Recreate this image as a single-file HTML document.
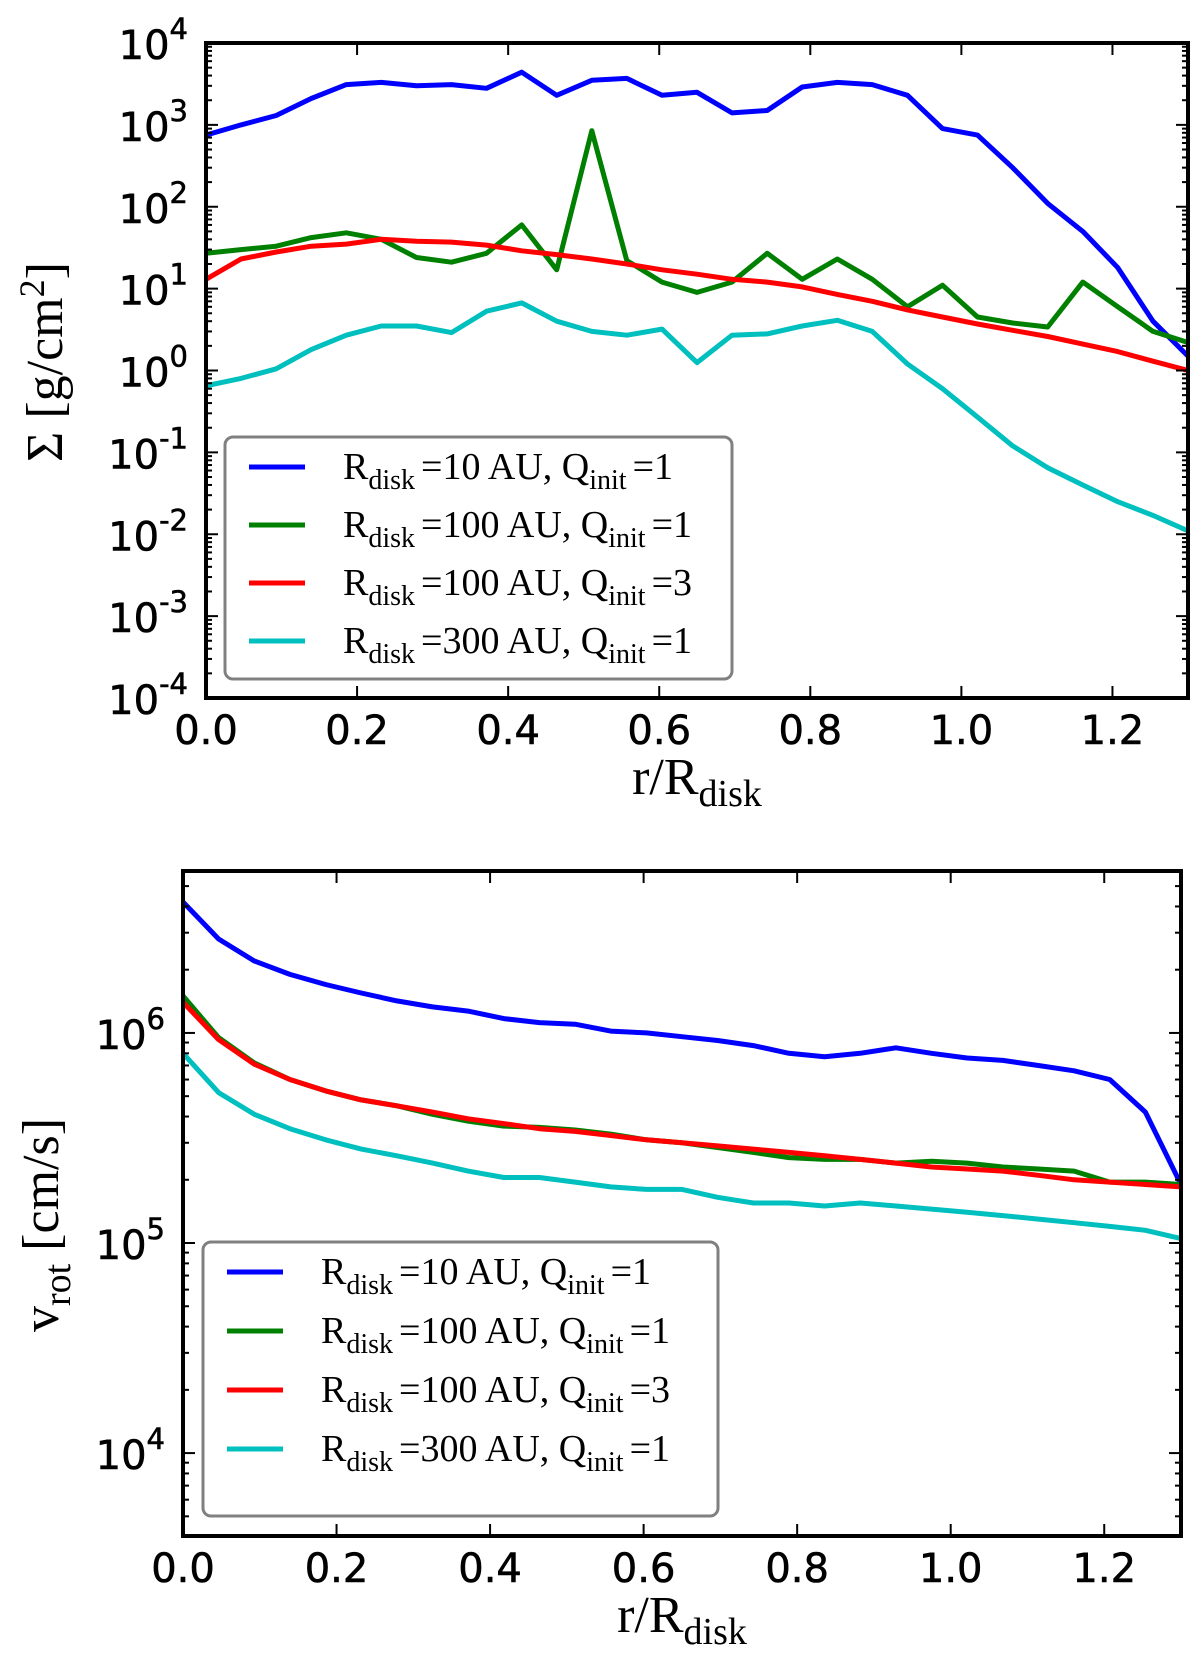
<!DOCTYPE html>
<html><head><meta charset="utf-8"><style>
html,body{margin:0;padding:0;background:#fff;}
svg{display:block;}
.tk{font-family:"DejaVu Sans","Liberation Sans",sans-serif;font-size:40px;fill:#000;stroke:#000;stroke-width:0.6px;}
.sr{font-family:"Liberation Serif","DejaVu Serif",serif;fill:#000;}
</style></head><body>
<svg id="fig" width="1200" height="1661" viewBox="0 0 1200 1661" xmlns="http://www.w3.org/2000/svg">
<g id="top"></g>
<g id="bot"></g>
</svg>
<script>
const NS="http://www.w3.org/2000/svg";
const xVals=[];for(let i=0;i<=28;i++)xVals.push(+(i*1.3/28).toFixed(4));
const xTicks=[0,0.2,0.4,0.6,0.8,1.0,1.2];
const xTickLabels=["0.0","0.2","0.4","0.6","0.8","1.0","1.2"];
const legendSizes=["10","100","100","300"];
const legendQ=["1","1","3","1"];
const colors=["#0000ff","#008000","#ff0000","#00bfbf"];
const sigBlue=[750,1000,1300,2100,3100,3300,3000,3100,2800,4400,2300,3500,3700,2300,2500,1400,1500,2900,3300,3100,2300,900,750,300,110,50,18,4,1.5];
const sigGreen=[27,30,33,42,48,40,24,21,27,60,17,850,22,12,9,12,27,13,23,13,6,11,4.5,3.8,3.4,12,6,3,2.2];
const sigRed=[13,23,28,33,35,40,38,37,34,29,26,23,20,17,15,13,12,10.5,8.5,7,5.5,4.5,3.7,3.1,2.6,2.1,1.7,1.3,1.0];
const sigCyan=[0.65,0.8,1.05,1.8,2.7,3.5,3.5,2.9,5.3,6.7,4,3,2.7,3.2,1.25,2.7,2.8,3.5,4.1,3,1.2,0.6,0.27,0.12,0.065,0.04,0.025,0.017,0.011];
const velBlue=[4.2e6,2.8e6,2.2e6,1.9e6,1.7e6,1.55e6,1.42e6,1.33e6,1.27e6,1.17e6,1.12e6,1.1e6,1.02e6,1.0e6,0.96e6,0.92e6,0.87e6,0.8e6,0.77e6,0.8e6,0.85e6,0.8e6,0.76e6,0.74e6,0.7e6,0.66e6,0.6e6,0.42e6,0.19e6];
const velGreen=[1.5e6,0.95e6,0.72e6,0.6e6,0.53e6,0.48e6,0.45e6,0.41e6,0.38e6,0.36e6,0.355e6,0.345e6,0.33e6,0.31e6,0.3e6,0.285e6,0.27e6,0.255e6,0.25e6,0.25e6,0.24e6,0.245e6,0.24e6,0.23e6,0.225e6,0.22e6,0.195e6,0.195e6,0.19e6];
const velRed=[1.4e6,0.93e6,0.71e6,0.6e6,0.53e6,0.48e6,0.45e6,0.42e6,0.39e6,0.37e6,0.35e6,0.34e6,0.325e6,0.31e6,0.3e6,0.29e6,0.28e6,0.27e6,0.26e6,0.25e6,0.24e6,0.23e6,0.225e6,0.22e6,0.21e6,0.2e6,0.195e6,0.19e6,0.185e6];
const velCyan=[0.8e6,0.52e6,0.41e6,0.35e6,0.31e6,0.28e6,0.26e6,0.24e6,0.22e6,0.205e6,0.205e6,0.195e6,0.185e6,0.18e6,0.18e6,0.165e6,0.155e6,0.155e6,0.15e6,0.155e6,0.15e6,0.145e6,0.14e6,0.135e6,0.13e6,0.125e6,0.12e6,0.115e6,0.105e6];
const sigExps=[-4,-3,-2,-1,0,1,2,3,4];
const velExps=[4,5,6];

function el(tag,attrs,parent,text){const e=document.createElementNS(NS,tag);for(const k in attrs)e.setAttribute(k,attrs[k]);if(text!==undefined)e.textContent=text;parent.appendChild(e);return e;}

function panel(g,P,series,exps,logMin,logMax,yLabel,legendBox){
  const X=v=>P.l+(v-0)/(1.3)*(P.r-P.l);
  const Y=v=>P.b-(Math.log10(v)-logMin)/(logMax-logMin)*(P.b-P.t);
  const cid="c"+g.id;
  const cp=el("clipPath",{id:cid},g);el("rect",{x:P.l,y:P.t,width:P.r-P.l,height:P.b-P.t},cp);
  series.forEach((s,k)=>{
    const d=xVals.map((x,i)=>(i?"L":"M")+X(x).toFixed(1)+","+Y(s[i]).toFixed(1)).join("");
    const p=el("path",{d:d,fill:"none",stroke:colors[k],"stroke-width":5,"stroke-linejoin":"round","clip-path":"url(#"+cid+")"},g);
    
    
  });
  for(let e=Math.floor(logMin);e<=Math.ceil(logMax);e++){
    for(let m=1;m<10;m++){
      const v=m*Math.pow(10,e);const lv=Math.log10(v);
      if(lv<logMin-1e-9||lv>logMax+1e-9)continue;
      const y=Y(v);const len=m===1?12:6;
      el("line",{x1:P.l,x2:P.l+len,y1:y,y2:y,stroke:"#000","stroke-width":2},g);
      el("line",{x1:P.r,x2:P.r-len,y1:y,y2:y,stroke:"#000","stroke-width":2},g);
    }
  }
  exps.forEach(e=>{
    const y=Y(Math.pow(10,e));
    const t=el("text",{x:P.l-18,y:y+16,"text-anchor":"end",class:"tk"},g);
    
    
    el("tspan",{},t,"10");
    el("tspan",{dy:-20,"font-size":"29"},t,String(e));
  });
  xTicks.forEach((v,i)=>{
    const x=X(v);
    el("line",{x1:x,x2:x,y1:P.b,y2:P.b-12,stroke:"#000","stroke-width":2},g);
    el("line",{x1:x,x2:x,y1:P.t,y2:P.t+12,stroke:"#000","stroke-width":2},g);
    const t=el("text",{x:x,y:P.b+46,"text-anchor":"middle",class:"tk"},g,xTickLabels[i]);
    
    
  });
  const fr=el("rect",{x:P.l,y:P.t,width:P.r-P.l,height:P.b-P.t,fill:"none",stroke:"#000","stroke-width":4},g);
  
  
  const xl=el("text",{x:(P.l+P.r)/2,y:P.b+96,"text-anchor":"middle",class:"sr","font-size":"52"},g);
  
  
  el("tspan",{},xl,"r/R");el("tspan",{dy:12,"font-size":"38"},xl,"disk");
  const yl=el("text",{transform:"translate("+yLabel.x+","+yLabel.y+") rotate(-90)","text-anchor":"middle",class:"sr","font-size":"52"},g);
  
  
  yLabel.parts.forEach(p=>el("tspan",p.a,yl,p.t));
  const L=legendBox;
  const lb=el("rect",{x:L.x,y:L.y,width:L.w,height:L.h,rx:8,fill:"#fff",stroke:"#808080","stroke-width":3},g);
  
  
  series.forEach((s,k)=>{
    const y=L.y+30+k*L.step;
    const ln=el("line",{x1:L.x+24,x2:L.x+80,y1:y,y2:y,stroke:colors[k],"stroke-width":5},g);
    
    
    const t=el("text",{x:L.x+118,y:y+12,class:"sr","font-size":"38"},g);
    
    
    el("tspan",{},t,"R");el("tspan",{dy:10,"font-size":"28"},t,"disk");
    el("tspan",{dy:-10,dx:6},t,"="+legendSizes[k]+" AU, Q");
    el("tspan",{dy:10,"font-size":"28"},t,"init");
    el("tspan",{dy:-10,dx:6},t,"="+legendQ[k]);
  });
}
panel(document.getElementById("top"),{l:206,r:1188,t:43,b:698},[sigBlue,sigGreen,sigRed,sigCyan],sigExps,-4,4,
 {x:62,y:362,parts:[{a:{},t:"Σ [g/cm"},{a:{dy:-18,"font-size":"36"},t:"2"},{a:{dy:18},t:"]"}]},
 {x:225,y:437,w:507,h:242,step:58});
panel(document.getElementById("bot"),{l:183,r:1181,t:871,b:1536},[velBlue,velGreen,velRed,velCyan],velExps,Math.log10(4.03e3),Math.log10(5.9e6),
 {x:58,y:1225,parts:[{a:{},t:"v"},{a:{dy:12,"font-size":"38"},t:"rot"},{a:{dy:-12},t:" [cm/s]"}]},
 {x:203,y:1242,w:515,h:274,step:59});
</script>
</body></html>
